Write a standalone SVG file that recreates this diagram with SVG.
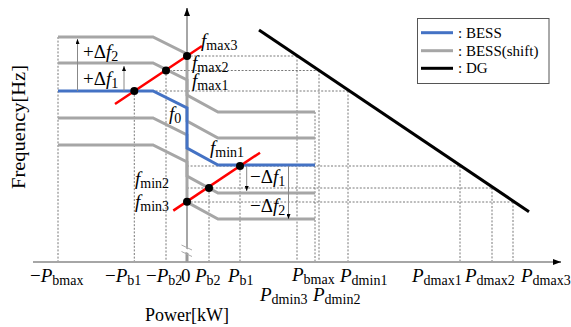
<svg xmlns="http://www.w3.org/2000/svg" width="571" height="327" viewBox="0 0 571 327">
<style>
.gray{stroke:#A6A6A6;stroke-width:3;fill:none}
.blue{stroke:#4472C4;stroke-width:3;fill:none}
.red{stroke:#FF0000;stroke-width:2.5;fill:none}
.dash{stroke:#555;stroke-width:0.8;stroke-dasharray:2 1.6;fill:none}
.dg{stroke:#000;stroke-width:3;fill:none}
.axis{stroke:#A6A6A6;stroke-width:2;fill:none}
.thin{stroke:#888;stroke-width:1;fill:none}
.m{font-family:"Liberation Serif","Times New Roman",serif;font-size:19px;font-style:italic;fill:#000}
.u{font-style:normal}
.s{font-style:normal;font-size:14px}
.t{font-family:"Liberation Serif","Times New Roman",serif;font-size:18px;fill:#000}
.lg{font-family:"Liberation Serif","Times New Roman",serif;font-size:15px;fill:#000}
</style>
<defs>
<marker id="big" viewBox="0 0 8 6" refX="8" refY="3" markerWidth="8" markerHeight="6" orient="auto" markerUnits="userSpaceOnUse"><path d="M0,0 L8,3 L0,6 z" fill="#000"/></marker>
<marker id="sm" viewBox="0 0 5 4" refX="5" refY="2" markerWidth="5" markerHeight="4" orient="auto" markerUnits="userSpaceOnUse"><path d="M0,0 L5,2 L0,4 z" fill="#000"/></marker>
</defs>

<g id="guides">
<line class="dash" x1="187" y1="56" x2="297" y2="56"/>
<line class="dash" x1="166" y1="70.5" x2="319" y2="70.5"/>
<line class="dash" x1="134" y1="91" x2="348" y2="91"/>
<line class="dash" x1="187" y1="166" x2="460" y2="166"/>
<line class="dash" x1="187" y1="188" x2="492" y2="188"/>
<line class="dash" x1="187" y1="202" x2="513" y2="202"/>
<line class="dash" x1="58" y1="37" x2="58" y2="262"/>
<line class="dash" x1="134.3" y1="91" x2="134.3" y2="262"/>
<line class="dash" x1="166" y1="70.5" x2="166" y2="262"/>
<line class="dash" x1="209" y1="188" x2="209" y2="262"/>
<line class="dash" x1="240" y1="166" x2="240" y2="262"/>
<line class="dash" x1="297" y1="56" x2="297" y2="262"/>
<line class="dash" x1="315" y1="112" x2="315" y2="262"/>
<line class="dash" x1="319" y1="70.5" x2="319" y2="262"/>
<line class="dash" x1="348" y1="91" x2="348" y2="262"/>
<line class="dash" x1="460" y1="166" x2="460" y2="262"/>
<line class="dash" x1="492" y1="188" x2="492" y2="262"/>
<line class="dash" x1="513" y1="202" x2="513" y2="262"/>
</g>

<g id="axes">
<line class="axis" x1="33" y1="262" x2="553" y2="262"/>
<line x1="553" y1="262" x2="561" y2="262" stroke="#000" stroke-width="1" marker-end="url(#big)"/>
<line class="axis" x1="187" y1="262" x2="187" y2="16"/>
<line x1="187" y1="16" x2="187" y2="8" stroke="#000" stroke-width="1" marker-end="url(#big)"/>
<line x1="187" y1="252" x2="187" y2="262" stroke="#999" stroke-width="3"/>
<polygon points="181,246.5 193,251.5 193,255 181,250" fill="#fff"/>
<line x1="181.5" y1="245" x2="192" y2="250" stroke="#aaa" stroke-width="1"/>
<line x1="181.5" y1="251.5" x2="192" y2="256.5" stroke="#aaa" stroke-width="1"/>
</g>

<g id="bess-shift">
<path class="gray" d="M58,37 H153 L187,54 V95 L218,112 H315"/>
<path class="gray" d="M58,63 H153 L187,80 V121 L218,138 H315"/>
<path class="gray" d="M58,118 H153 L187,135 V176 L218,193 H315"/>
<path class="gray" d="M58,145 H153 L187,162 V202 L218,219 H315"/>
</g>
<g id="bess">
<path class="blue" d="M58,91 H153 L187,108 V148 L218,165 H315"/>
</g>

<g id="deltas">
<line class="thin" x1="77.5" y1="91" x2="77.5" y2="39" marker-end="url(#sm)"/>
<line class="thin" x1="124" y1="91" x2="124" y2="66" marker-end="url(#sm)"/>
<line class="thin" x1="246.7" y1="166" x2="246.7" y2="191" marker-end="url(#sm)"/>
<line class="thin" x1="288.5" y1="166" x2="288.5" y2="219" marker-end="url(#sm)"/>
</g>

<g id="droop-lines">
<line class="red" x1="115" y1="104" x2="202" y2="46"/>
<line class="red" x1="173.3" y1="210.6" x2="260" y2="152.7"/>
<g fill="#000">
<circle cx="134.3" cy="91" r="4"/>
<circle cx="166" cy="70.5" r="4"/>
<circle cx="187" cy="56" r="4"/>
<circle cx="187" cy="201.7" r="4"/>
<circle cx="209" cy="188" r="4"/>
<circle cx="240" cy="166" r="4"/>
</g>
</g>

<g id="dg">
<line class="dg" x1="259" y1="30" x2="529" y2="211.7"/>
</g>

<g id="legend">
<rect x="417.5" y="18.5" width="131.5" height="65" fill="#fff" stroke="#555" stroke-width="1"/>
<line x1="421" y1="32.7" x2="453" y2="32.7" stroke="#4472C4" stroke-width="3"/>
<line x1="421" y1="50.7" x2="453" y2="50.7" stroke="#A6A6A6" stroke-width="3"/>
<line x1="421" y1="68.3" x2="453" y2="68.3" stroke="#000" stroke-width="3"/>
<text class="lg" x="458" y="37.5">: BESS</text>
<text class="lg" x="458" y="55.5">: BESS(shift)</text>
<text class="lg" x="458" y="73">: DG</text>
</g>

<g id="labels">
<text class="m" x="83" y="58"><tspan class="u">+Δ</tspan>f<tspan class="s" dy="3">2</tspan></text>
<text class="m" x="83" y="85"><tspan class="u">+Δ</tspan>f<tspan class="s" dy="3">1</tspan></text>
<text class="m" x="201" y="46.5">f<tspan class="s" dy="3">max3</tspan></text>
<text class="m" x="192" y="69">f<tspan class="s" dy="3">max2</tspan></text>
<text class="m" x="192" y="87">f<tspan class="s" dy="3">max1</tspan></text>
<text class="m" x="169" y="120">f<tspan class="s" dy="3">0</tspan></text>
<text class="m" x="210" y="154">f<tspan class="s" dy="3">min1</tspan></text>
<text class="m" x="135" y="185">f<tspan class="s" dy="3">min2</tspan></text>
<text class="m" x="135" y="208">f<tspan class="s" dy="3">min3</tspan></text>
<text class="m" x="250" y="183"><tspan class="u">−Δ</tspan>f<tspan class="s" dy="3">1</tspan></text>
<text class="m" x="250" y="212"><tspan class="u">−Δ</tspan>f<tspan class="s" dy="3">2</tspan></text>

<text class="m" x="30" y="282"><tspan class="u">−</tspan>P<tspan class="s" dy="3">bmax</tspan></text>
<text class="m" x="105" y="282"><tspan class="u">−</tspan>P<tspan class="s" dy="3">b1</tspan></text>
<text class="m" x="146" y="282"><tspan class="u">−</tspan>P<tspan class="s" dy="3">b2</tspan></text>
<text class="m u" x="181" y="282">0</text>
<text class="m" x="195" y="282">P<tspan class="s" dy="3">b2</tspan></text>
<text class="m" x="228" y="282">P<tspan class="s" dy="3">b1</tspan></text>
<text class="m" x="292" y="281">P<tspan class="s" dy="2.5">bmax</tspan></text>
<text class="m" x="340" y="282">P<tspan class="s" dy="3">dmin1</tspan></text>
<text class="m" x="412" y="282">P<tspan class="s" dy="3">dmax1</tspan></text>
<text class="m" x="465" y="282">P<tspan class="s" dy="3">dmax2</tspan></text>
<text class="m" x="521" y="282">P<tspan class="s" dy="3">dmax3</tspan></text>
<text class="m" x="260" y="300.5">P<tspan class="s" dy="3">dmin3</tspan></text>
<text class="m" x="313" y="300.5">P<tspan class="s" dy="3">dmin2</tspan></text>

<text class="t" x="145" y="321">Power[kW]</text>
<text class="t" transform="translate(25,127) rotate(-90)" text-anchor="middle" font-size="19" textLength="124" lengthAdjust="spacingAndGlyphs">Frequency[Hz]</text>
</g>
</svg>
